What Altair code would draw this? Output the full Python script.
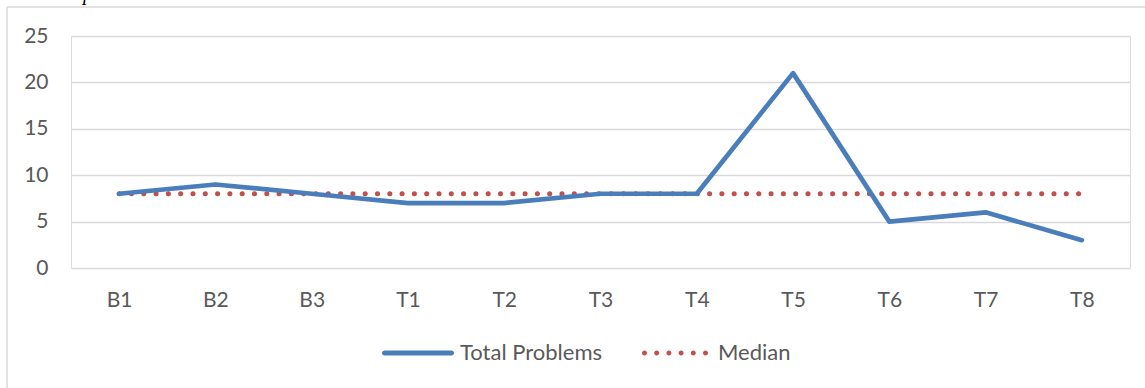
import altair as alt
import pandas as pd

categories = ["B1", "B2", "B3", "T1", "T2", "T3", "T4", "T5", "T6", "T7", "T8"]
total_problems = [8, 9, 8, 7, 7, 8, 8, 21, 5, 6, 3]
median = [8, 8, 8, 8, 8, 8, 8, 8, 8, 8, 8]
series_names = ["Total Problems", "Median"]
series_colors = ["#4a7ebb", "#c0504d"]
y_ticks = [0, 5, 10, 15, 20, 25]

df_total = pd.DataFrame({"cat": categories, "value": total_problems,
                         "series": [series_names[0]] * len(categories)})
df_median = pd.DataFrame({"cat": categories, "value": median,
                          "series": [series_names[1]] * len(categories)})

FONT = "Lato"
TXT = "#595959"
GRID = "#d9d9d9"

# legend symbol shapes (unit box -1..1)
h = 2.5 / 36
capsule = (f"M{-1 + h},{-h} L{1 - h},{-h} A{h},{h} 0 0 1 {1 - h},{h} "
           f"L{-1 + h},{h} A{h},{h} 0 0 1 {-1 + h},{-h} Z")
r = 2.5 / 33
dots = ""
for i in range(6):
    cx = -1 + r + i * (2 - 2 * r) / 5
    dots += f"M{cx - r},0 A{r},{r} 0 1 0 {cx + r},0 A{r},{r} 0 1 0 {cx - r},0 Z "

x_enc = alt.X("cat:N", sort=categories, title=None,
              scale=alt.Scale(type="point", padding=0.5),
              axis=alt.Axis(domain=False, ticks=False, grid=False, labelAngle=0,
                            labelPadding=21, labelFontSize=21, labelFont=FONT,
                            labelColor=TXT))
y_enc = alt.Y("value:Q", title=None,
              scale=alt.Scale(domain=[0, 25], nice=False, zero=True),
              axis=alt.Axis(values=y_ticks, domain=False, ticks=False,
                            gridColor=GRID, gridWidth=1.5, labelPadding=23,
                            labelFontSize=21, labelFont=FONT, labelColor=TXT))

total_line = alt.Chart(df_total).mark_line(
    strokeWidth=4.7, strokeCap="round", strokeJoin="round"
).encode(
    x=x_enc, y=y_enc,
    color=alt.Color("series:N",
                    scale=alt.Scale(domain=[series_names[0]], range=[series_colors[0]]),
                    legend=alt.Legend(title=None, orient="none", legendX=311, legendY=281,
                                      padding=0, symbolType=capsule, symbolSize=5184,
                                      symbolStrokeWidth=0, symbolFillColor=series_colors[0],
                                      labelOffset=6, labelFontSize=22, labelFont=FONT,
                                      labelColor=TXT)),
)

median_line = alt.Chart(df_median).mark_line(
    strokeWidth=5, strokeCap="round", strokeDash=[0.1, 12.2]
).encode(
    x=x_enc, y=y_enc,
    color=alt.Color("series:N",
                    scale=alt.Scale(domain=[series_names[1]], range=[series_colors[1]]),
                    legend=alt.Legend(title=None, orient="none", legendX=571, legendY=284,
                                      padding=0, symbolType=dots, symbolSize=4356,
                                      symbolStrokeWidth=0, symbolFillColor=series_colors[1],
                                      labelOffset=10, labelFontSize=22, labelFont=FONT,
                                      labelColor=TXT)),
)

one = pd.DataFrame({"k": [0]})
top_edge = alt.Chart(one).mark_rule(stroke=GRID, strokeWidth=1.5).encode(
    x=alt.value(-64), x2=alt.value(1100), y=alt.value(-29)
)
left_edge = alt.Chart(one).mark_rule(stroke=GRID, strokeWidth=1.5).encode(
    x=alt.value(-64), y=alt.value(-29), y2=alt.value(400)
)

cut_text = alt.Chart(pd.DataFrame({"t": ["p"]})).mark_text(
    font="Liberation Serif", fontStyle="italic", fontSize=20, color="black",
    baseline="alphabetic", align="center"
).encode(text="t:N", x=alt.value(17), y=alt.value(-36.5))

chart = alt.layer(top_edge, left_edge, median_line, total_line, cut_text).resolve_scale(
    color="independent"
).properties(
    width=1059, height=232,
    autosize=alt.AutoSizeParams(type="none"),
    padding={"left": 71, "top": 36, "right": 15, "bottom": 120},
).configure_view(stroke=None).configure(background="white")

chart.save("out.html", embed_options={"renderer": "svg", "actions": False})
